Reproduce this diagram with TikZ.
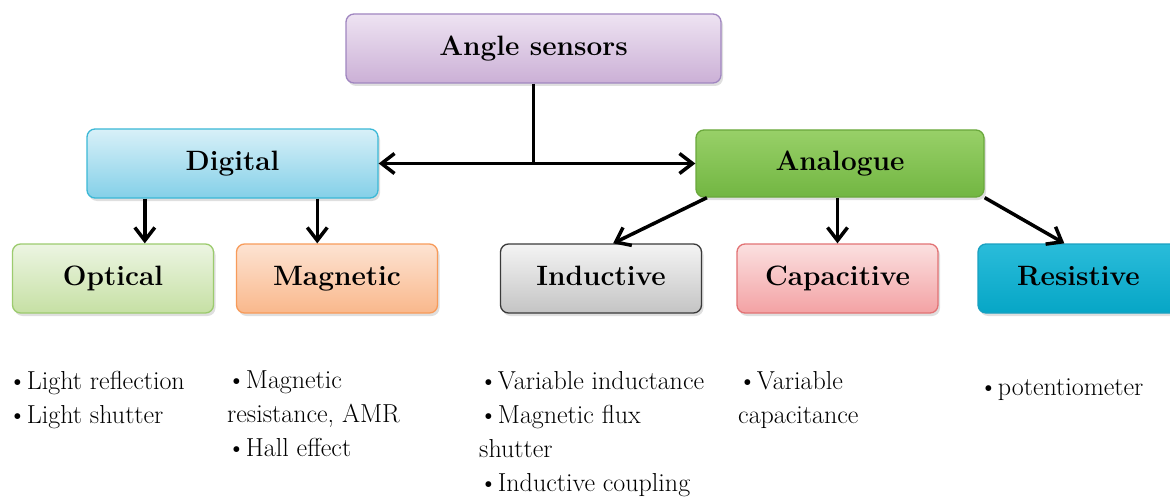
\documentclass[tikz,border=0pt]{standalone}
\usepackage{fontspec}
\usetikzlibrary{arrows.meta,shadows,calc}
\definecolor{angT}{HTML}{EEE3F2}\definecolor{angB}{HTML}{CBB0D6}\definecolor{angD}{HTML}{A086C0}
\definecolor{digT}{HTML}{D8F0F8}\definecolor{digB}{HTML}{84D0E8}\definecolor{digD}{HTML}{3BB8D6}
\definecolor{anaT}{HTML}{98D068}\definecolor{anaB}{HTML}{72B642}\definecolor{anaD}{HTML}{6AA83C}
\definecolor{optT}{HTML}{ECF5E2}\definecolor{optB}{HTML}{C6E0A4}\definecolor{optD}{HTML}{9CCB6E}
\definecolor{magT}{HTML}{FDE3D2}\definecolor{magB}{HTML}{F9B88C}\definecolor{magD}{HTML}{F79B5A}
\definecolor{indT}{HTML}{F4F4F4}\definecolor{indB}{HTML}{C4C4C4}\definecolor{indD}{HTML}{3A3A3A}
\definecolor{capT}{HTML}{FBE0E0}\definecolor{capB}{HTML}{F3A2A4}\definecolor{capD}{HTML}{E27274}
\definecolor{resT}{HTML}{2ABCDA}\definecolor{resB}{HTML}{06A6C6}\definecolor{resD}{HTML}{1AA0C0}
\newcommand{\arw}{-{Straight Barb[length=13pt,width=20pt]}}

\begin{document}
\begin{tikzpicture}[x=1pt,y=-1pt,
  box/.style={rounded corners=8pt,line width=1.3pt,minimum height=69pt,minimum width=201pt,
    text height=20pt,text depth=6pt,font=\bfseries\fontsize{28}{34}\selectfont,
    drop shadow={opacity=.25,shadow xshift=2pt,shadow yshift=-3pt}},
  list/.style={anchor=north west,inner sep=0pt,align=left,
    font=\fontsize{26}{34}\selectfont,execute at begin node=\strut},
  link/.style={line width=3.5pt}]
\clip (0,0) rectangle (1170,500);
%boxes
\node[box,minimum width=375pt,top color=angT,bottom color=angB,draw=angD] (angle) at (533.5,48.5) {Angle sensors};
\node[box,minimum width=291pt,top color=digT,bottom color=digB,draw=digD] (digital) at (232.5,163.5) {Digital};
\node[box,minimum width=288pt,minimum height=67pt,top color=anaT,bottom color=anaB,draw=anaD] (analogue) at (840,163.5) {Analogue};
\node[box,top color=optT,bottom color=optB,draw=optD] (optical) at (113,278.5) {Optical};
\node[box,top color=magT,bottom color=magB,draw=magD] (magnetic) at (337,278.5) {Magnetic};
\node[box,top color=indT,bottom color=indB,draw=indD] (inductive) at (601,278.5) {Inductive};
\node[box,top color=capT,bottom color=capB,draw=capD] (capacitive) at (837.5,278.5) {Capacitive};
\node[box,top color=resT,bottom color=resB,draw=resD] (resistive) at (1078.5,278.5) {Resistive};
%connectors
\coordinate (fork) at (angle.south |- digital.east);
\draw[link] (angle.south) -- (fork);
\draw[link,\arw] (fork) -- (digital.east);
\draw[link,\arw] (fork) -- (analogue.west);
\coordinate (d1) at ($(digital.south west)!0.2!(digital.south east)$);
\coordinate (d2) at ($(digital.south west)!0.79!(digital.south east)$);
\draw[link,\arw] (d1) -- (d1 |- optical.north);
\draw[link,\arw] (d2) -- (d2 |- magnetic.north);
\coordinate (a1) at ($(analogue.south west)!0.04!(analogue.south east)$);
\coordinate (i1) at ($(inductive.north west)!0.56!(inductive.north east)$);
\coordinate (r1) at ($(resistive.north west)!0.43!(resistive.north east)$);
\draw[link,\arw] (a1) -- (i1);
\draw[link,\arw] (capacitive.north |- analogue.south) -- (capacitive.north);
\draw[link,\arw] (analogue.south east) -- (r1);
%lists
\node[list] (optlist) at (8,371) {•Light reflection\\•Light shutter};
\node[list] (maglist) at (227,371) {•Magnetic\\resistance, AMR\\•Hall effect};
\node[list] (indlist) at (479,371) {•Variable inductance\\•Magnetic flux\\shutter\\•Inductive coupling};
\node[list] (caplist) at (738,371) {•Variable\\capacitance};
\node[list] (reslist) at (979,371) {•potentiometer};
\end{tikzpicture}
\end{document}
